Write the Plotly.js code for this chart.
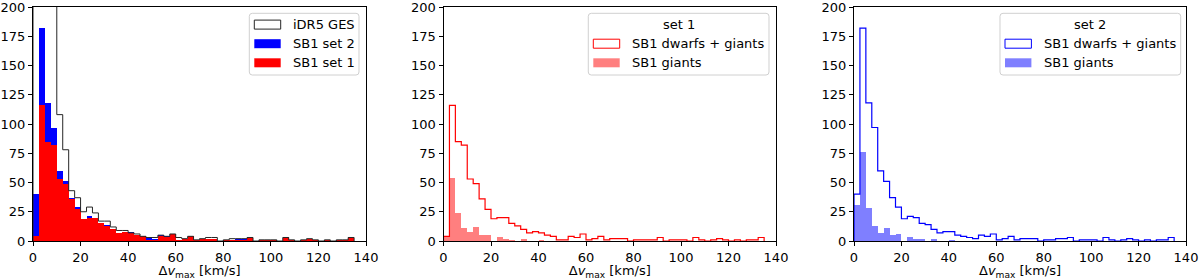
<!DOCTYPE html>
<html><head><meta charset="utf-8">
<script src="https://cdn.plot.ly/plotly-3.0.1.min.js"></script>
<style>html,body{margin:0;padding:0;background:#fff}#chart{width:1200px;height:280px}</style>
</head><body><div id="chart"></div>
<script>
// bin edges of the histograms (km/s)
const binEdges = [0,2.5,5,7.5,10,12.5,15,17.5,20,22.5,25,27.5,30,32.5,35,37.5,40,42.5,45,47.5,50,52.5,55,57.5,60,62.5,65,67.5,70,72.5,75,77.5,80,82.5,85,87.5,90,92.5,95,97.5,100,102.5,105,107.5,110,112.5,115,117.5,120,122.5,125,127.5,130,132.5,135];
// counts per bin
const iDR5GES = [205,390,320,240,108,78,43,37,25,29,24,17,17,12,9,9,7,6,4,3,3,5,4,6,3,2,4,1,2,3,3,0,1,2,2,2,3,0,1,1,1,0,3,1,0,1,2,1,0,1,0,1,1,3];
const sb1Set2 = [40,182,118,97,60,51,37,29,19,21,20,15,14,10,7,8,8,5,4,3,2,5,4,6,1,2,4,1,2,2,2,0,1,1,2,2,3,0,1,1,1,0,3,1,0,1,2,1,0,1,0,1,1,3];
const sb1Set1 = [4,116,85,82,53,49,36,27,19,20,20,15,13,10,7,8,7,5,4,1,1,4,3,6,1,2,4,1,2,2,2,0,1,1,1,1,3,0,1,1,1,0,3,1,0,1,2,1,0,1,0,1,1,3];
const sb1Set1Giants = [4,54,24,11,8,12,5,5,0,3,2,1,0,2,0,0,1,0,0,0,0,0,0,0,0,0,0,0,0,0,0,0,0,0,0,0,0,0,0,0,0,0,0,0,0,0,0,0,0,0,0,0,0,0];
const sb1Set2Giants = [31,76,28,13,7,11,5,6,0,3,2,2,0,2,0,0,1,0,0,0,0,0,0,0,0,0,0,0,0,0,0,0,0,0,0,0,0,0,0,0,0,0,0,0,0,0,0,0,0,0,0,0,0,0];
const xTicks = [0,20,40,60,80,100,120,140];
const yTicks = [0,25,50,75,100,125,150,175,200];
const xTitle = 'Δ<i>v</i><sub>max</sub> [km/s]';
const legend1Labels = ['iDR5 GES','SB1 set 2','SB1 set 1'];
const legend2Title = 'set 1';
const legend3Title = 'set 2';
const legendSubLabels = ['SB1 dwarfs + giants','SB1 giants'];

const FONT = 'DejaVu Sans, sans-serif';
const RED = '#ff0000', BLUE = '#0000ff', RED50 = 'rgba(255,0,0,0.5)', BLUE50 = 'rgba(0,0,255,0.5)';

const centers = binEdges.slice(0,-1).map((e,i)=>(e+binEdges[i+1])/2);
function stepX(){ return [binEdges[0]].concat(binEdges.slice(0,-1), [binEdges[binEdges.length-1]]); }
function stepY(v){ return [0].concat(v,[0]); }

function stepTrace(vals, color, xa, ya, width){
  return {type:'scatter', mode:'lines', x:stepX(), y:stepY(vals), xaxis:xa, yaxis:ya,
    line:{shape:'hv', color:color, width:width}, showlegend:false, hoverinfo:'skip'};
}
function barTrace(vals, color, xa, ya){
  return {type:'bar', x:centers, y:vals, xaxis:xa, yaxis:ya,
    marker:{color:color, line:{width:0}}, showlegend:false, hoverinfo:'skip'};
}

const data = [
  stepTrace(iDR5GES, '#262626', 'x', 'y', 1),
  barTrace(sb1Set2, BLUE, 'x', 'y'),
  barTrace(sb1Set1, RED, 'x', 'y'),
  barTrace(sb1Set1Giants, RED50, 'x2', 'y2'),
  stepTrace(sb1Set1, RED, 'x2', 'y2', 1.2),
  barTrace(sb1Set2Giants, BLUE50, 'x3', 'y3'),
  stepTrace(sb1Set2, BLUE, 'x3', 'y3', 1.2)
];

const M = {l:33, r:14, t:7, b:39};
const W = 1200, H = 280, PW = W-M.l-M.r, PH = H-M.t-M.b;
const px = v => (v-M.l)/PW;
const py = v => (H-M.b-v)/PH;

function xAxis(dom, anchor){
  return {domain:dom, anchor:anchor, range:[0,140], tickvals:xTicks, ticktext:xTicks.map(String),
    showline:true, mirror:true, linecolor:'#000', linewidth:1, ticks:'outside', ticklen:4, tickwidth:1, tickcolor:'#000',
    showgrid:false, zeroline:false, fixedrange:true, ticklabeloverflow:'allow',
    tickfont:{family:FONT, size:13, color:'#000'},
    title:{text:xTitle, font:{family:FONT, size:13, color:'#000'}, standoff:4}};
}
function yAxis(anchor){
  return {domain:[0,1], anchor:anchor, range:[0,200], tickvals:yTicks, ticktext:yTicks.map(String),
    showline:true, mirror:true, linecolor:'#000', linewidth:1, ticks:'outside', ticklen:4, tickwidth:1, tickcolor:'#000',
    showgrid:false, zeroline:false, fixedrange:true, ticklabeloverflow:'allow',
    tickfont:{family:FONT, size:13, color:'#000'}};
}

const shapes = [], annotations = [];
function roundedBox(x0,y0,x1,y1,r){
  const P = (a,b)=>px(a).toFixed(5)+','+py(b).toFixed(5);
  const d = 'M'+P(x0+r,y0)+' L'+P(x1-r,y0)+' Q'+P(x1,y0)+' '+P(x1,y0+r)+' L'+P(x1,y1-r)+' Q'+P(x1,y1)+' '+P(x1-r,y1)+
    ' L'+P(x0+r,y1)+' Q'+P(x0,y1)+' '+P(x0,y1-r)+' L'+P(x0,y0+r)+' Q'+P(x0,y0)+' '+P(x0+r,y0)+' Z';
  shapes.push({type:'path', xref:'paper', yref:'paper', path:d, fillcolor:'rgba(255,255,255,0.85)', line:{color:'#d0d0d0', width:1}, layer:'above'});
}
function handle(bx, cy, color, filled){
  shapes.push({type:'rect', xref:'paper', yref:'paper', x0:px(bx+5), x1:px(bx+31.4), y0:py(cy+4.5), y1:py(cy-4.5),
    fillcolor: filled ? color : '#ffffff', line:{color:color, width: filled?0:1}, layer:'above'});
}
function label(x, cy, text, anchor){
  annotations.push({xref:'paper', yref:'paper', x:px(x), y:py(cy), text:text, showarrow:false,
    xanchor:anchor||'left', yanchor:'middle', font:{family:FONT, size:13, color:'#000'}});
}
// legend panel 1
(function(){
  const bx=249.3; roundedBox(bx,13.3,359,75,3);
  const rows=[24.6,43.7,62.8];
  handle(bx, rows[0], '#262626', false); label(bx+41.5, rows[0], legend1Labels[0]);
  handle(bx, rows[1], BLUE, true); label(bx+41.5, rows[1], legend1Labels[1]);
  handle(bx, rows[2], RED, true); label(bx+41.5, rows[2], legend1Labels[2]);
})();
// legend panel 2
(function(){
  const bx=588.3, bx1=769; roundedBox(bx,13.3,bx1,75,3);
  label((bx+bx1)/2, 24.6, legend2Title, 'center');
  handle(bx, 43.7, RED, false); label(bx+41.5, 43.7, legendSubLabels[0]);
  handle(bx, 62.8, RED50, true); label(bx+41.5, 62.8, legendSubLabels[1]);
})();
// legend panel 3
(function(){
  const bx=1000, bx1=1180.7; roundedBox(bx,13.3,bx1,75,3);
  label((bx+bx1)/2, 24.6, legend3Title, 'center');
  handle(bx, 43.7, BLUE, false); label(bx+41.5, 43.7, legendSubLabels[0]);
  handle(bx, 62.8, BLUE50, true); label(bx+41.5, 62.8, legendSubLabels[1]);
})();

const layout = {
  width:W, height:H, margin:M, paper_bgcolor:'#fff', plot_bgcolor:'#fff',
  showlegend:false, barmode:'overlay', bargap:0,
  font:{family:FONT, size:13, color:'#000'},
  xaxis: xAxis([0, px(366)], 'y'),
  xaxis2: xAxis([px(443.5), px(776)], 'y2'),
  xaxis3: xAxis([px(854), 1], 'y3'),
  yaxis: yAxis('x'), yaxis2: yAxis('x2'), yaxis3: yAxis('x3'),
  shapes: shapes, annotations: annotations
};
Plotly.newPlot('chart', data, layout, {displayModeBar:false, staticPlot:true});
</script></body></html>
